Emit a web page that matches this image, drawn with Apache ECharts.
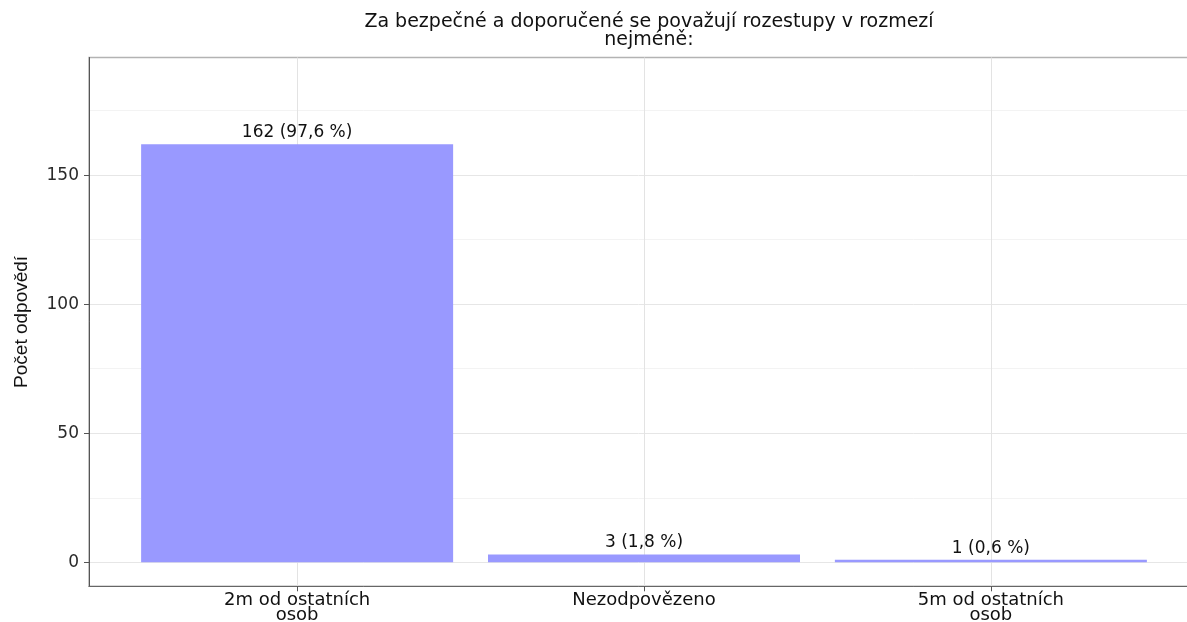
<!DOCTYPE html>
<html>
<head>
<meta charset="utf-8">
<script src="https://cdn.jsdelivr.net/npm/echarts@6/dist/echarts.min.js"></script>
<style>
html,body{margin:0;padding:0;background:#fff;}
#main{width:1187px;height:622px;}
</style>
</head>
<body>
<div id="main"></div>
<script>
var titleText = 'Za bezpečné a doporučené se považují rozestupy v rozmezí\nnejméně:';
var categories = ['2m od ostatních\nosob', 'Nezodpovězeno', '5m od ostatních\nosob'];
var counts = [162, 3, 1];
var percentLabels = ['97,6', '1,8', '0,6'];
var yTicks = [0, 50, 100, 150];
var yMinorTicks = [25, 75, 125, 175];

var init = function(){
	var myChart = echarts.init(document.getElementById('main'));
	var barData = [];
	for(var i = 0; i < counts.length; i++){
		barData.push([i + 1, counts[i]]);
	}
	var option = {
		animation: false,
		title: {
			text: titleText,
			left: 644,
			textAlign: 'center',
			top: 8,
			textStyle: {
				fontFamily: 'DejaVu Sans',
				fontSize: 19,
				fontWeight: 'normal',
				color: '#111',
				lineHeight: 18
			}
		},
		grid: {
			left: 89,
			right: -12,
			top: 57.5,
			bottom: 35.7,
			show: true,
			borderColor: '#b3b3b3',
			borderWidth: 1.5,
			outerBoundsMode: 'none'
		},
		xAxis: {
			type: 'value',
			min: 0.4,
			max: 3.6,
			axisLine: {show: true, onZero: false, lineStyle: {color: '#666', width: 1}},
			axisTick: {show: true, length: 5, customValues: [1, 2, 3], lineStyle: {color: '#555'}},
			axisLabel: {
				customValues: [1, 2, 3],
				margin: 7,
				fontFamily: 'DejaVu Sans',
				fontSize: 18,
				lineHeight: 15,
				color: '#111',
				formatter: function(v){ return categories[Math.round(v) - 1]; }
			},
			splitLine: {show: true, lineStyle: {color: '#e3e3e3', width: 1}}
		},
		yAxis: [{
			type: 'value',
			min: -9.3,
			max: 195.6,
			name: 'Počet odpovědí',
			nameLocation: 'middle',
			nameGap: 58,
			nameTextStyle: {fontFamily: 'Liberation Sans', fontSize: 19, color: '#111'},
			axisLine: {show: true, lineStyle: {color: '#555', width: 1}},
			axisTick: {show: true, length: 5, customValues: yTicks, lineStyle: {color: '#555'}},
			axisLabel: {
				customValues: yTicks,
				margin: 10,
				fontFamily: 'DejaVu Sans',
				fontSize: 17,
				color: '#2a2a2a'
			},
			splitLine: {show: true, lineStyle: {color: '#e6e6e6', width: 1}}
		}, {
			type: 'value',
			min: -9.3,
			max: 195.6,
			axisLine: {show: false},
			axisTick: {show: false, customValues: yMinorTicks},
			axisLabel: {show: false, customValues: yMinorTicks},
			splitLine: {show: true, lineStyle: {color: '#f3f3f3', width: 1}}
		}],
		series: [{
			type: 'bar',
			yAxisIndex: 0,
			data: barData,
			barWidth: 312,
			itemStyle: {color: '#9999ff'},
			label: {
				show: true,
				position: 'top',
				distance: 3,
				fontFamily: 'DejaVu Sans',
				fontSize: 17,
				color: '#111',
				formatter: function(p){
					return counts[p.dataIndex] + ' (' + percentLabels[p.dataIndex] + ' %)';
				}
			}
		}]
	};
	myChart.setOption(option);
}

init();
</script>
</body>
</html>
